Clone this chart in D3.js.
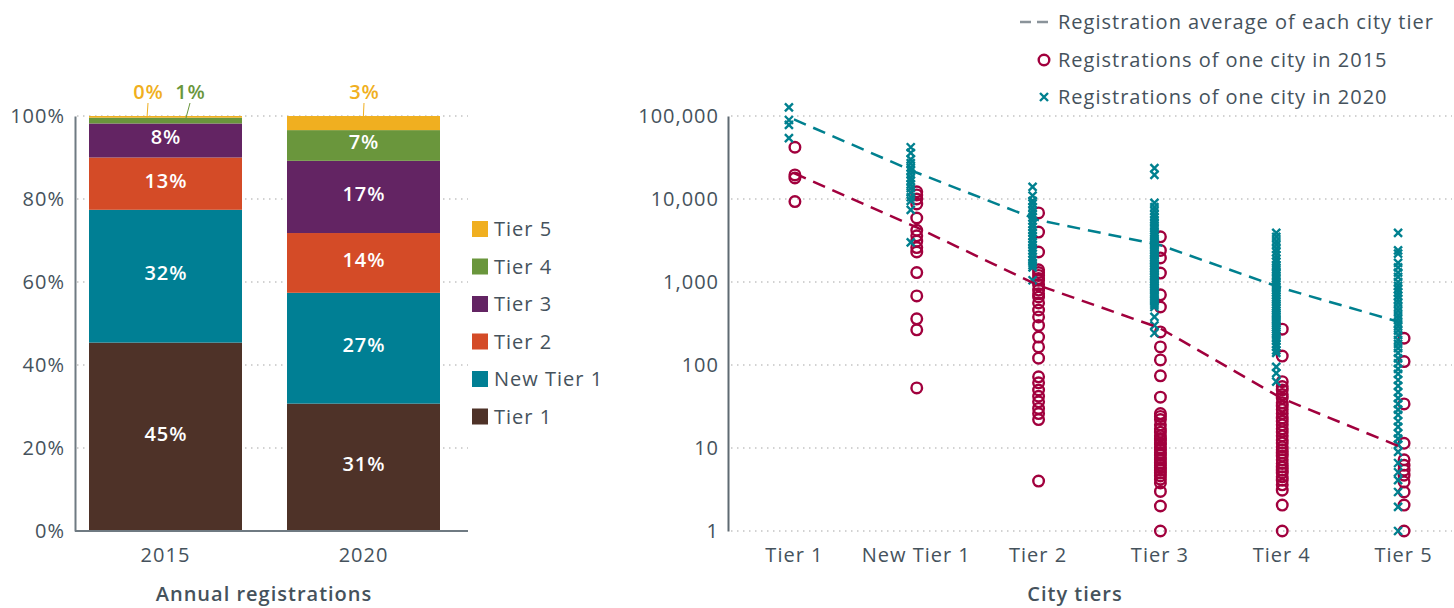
<!DOCTYPE html>
<html><head><meta charset="utf-8">
<script src="https://cdn.jsdelivr.net/npm/d3@7"></script>
<style>
body{margin:0;background:#fff;}
text{font-family:"Open Sans",sans-serif;}
</style></head>
<body><svg id="c" width="1454" height="608"></svg>
<script>
// ---- Left chart data (share of annual registrations, %) ----
const years = ["2015", "2020"];
const stackTiers = ["Tier 1", "New Tier 1", "Tier 2", "Tier 3", "Tier 4", "Tier 5"];
const share2015 = [45.4, 32.0, 12.6, 8.2, 1.4, 0.4];
const share2020 = [30.7, 26.7, 14.4, 17.4, 7.4, 3.4];
const pctTicks = [0, 20, 40, 60, 80, 100];

// ---- Right chart data (registrations per city, log scale) ----
const cityTiers = ["Tier 1", "New Tier 1", "Tier 2", "Tier 3", "Tier 4", "Tier 5"];
const avg2015 = [20500, 4600, 920, 280, 40, 10];
const avg2020 = [91000, 21000, 5600, 2800, 850, 320];
const logTicks = [1, 10, 100, 1000, 10000, 100000];

const t1_2015 = [42000, 19500, 17900, 9300];
const nt1_2015 = [12200, 11200, 10000, 8700, 5900, 4200, 3600, 3100, 2600, 2300, 1300, 680, 360, 265, 53];
const t2_2015 = [6800, 4000, 2300, 1400, 1300, 1200, 1100, 1050, 920, 800, 720, 660, 560, 460, 380, 300, 217, 165, 121, 72, 61, 50, 42, 36, 30, 26, 22, 4];
const t3_2015 = [3500, 2400, 1950, 1280, 700, 500, 250, 165, 115, 74, 41, 26, 24, 22, 19, 17, 15.5, 14, 13, 12.5, 11.5, 11, 10, 9.5, 8.8, 8.2, 7.6, 7.2, 6.6, 6.2, 5.8, 5.4, 5, 4.6, 4.2, 3.8, 3, 2, 1];
const t4_2015 = [270, 128, 63, 55, 50, 44, 40, 35, 32, 29, 26, 23, 21, 19, 17, 15.6, 14, 12.5, 11.5, 10.3, 9.5, 8.7, 8, 7.2, 6.5, 5.9, 5.4, 5, 4.5, 4.1, 3.6, 3.1, 2.05, 1];
const t5_2015 = [210, 110, 34, 11.4, 7.2, 6.2, 5.4, 4.7, 3.9, 2.95, 2.05, 1];

const t1_2020 = [127000, 89500, 78000, 54000];
const nt1_2020 = [42000, 36000, 30000, 27000, 24000, 22000, 20000, 18000, 16500, 15000, 13500, 12000, 10500, 9500, 7400, 3000];
const t2_2020 = [14000, 11000, 9500, 8800, 8000, 7200, 6500, 6000, 5500, 5000, 4600, 4200, 3900, 3600, 3300, 3000, 2800, 2600, 2400, 2200, 2000, 1850, 1700, 1600, 1500, 1050];
const t3_2020 = [23600, 19500, 9000, 8000, 7200, 6500, 6000, 5600, 5200, 4800, 4500, 4200, 3900, 3700, 3500, 3300, 3100, 2950, 2800, 2650, 2500, 2400, 2300, 2200, 2100, 2000, 1900, 1820, 1750, 1680, 1600, 1530, 1470, 1400, 1340, 1280, 1220, 1170, 1120, 1070, 1020, 980, 940, 900, 860, 820, 780, 740, 700, 660, 620, 590, 560, 530, 500, 380, 300, 243];
const t4_2020 = [3900, 3500, 3100, 2800, 2500, 2300, 2100, 1900, 1750, 1600, 1500, 1400, 1300, 1200, 1120, 1050, 980, 920, 860, 800, 750, 700, 660, 620, 580, 540, 510, 480, 450, 420, 400, 380, 360, 340, 320, 300, 285, 270, 255, 240, 225, 210, 195, 180, 165, 150, 140, 95, 80, 63];
const t5_2020 = [3900, 2400, 2200, 1700, 1500, 1300, 1150, 1000, 900, 820, 750, 680, 620, 560, 500, 450, 400, 360, 320, 290, 260, 230, 200, 180, 160, 140, 120, 105, 90, 78, 66, 56, 47, 40, 34, 29, 25, 21, 18, 15, 13, 11, 9, 6.6, 5.1, 4.1, 2.95, 1.95, 1];

const cities2015 = [t1_2015, nt1_2015, t2_2015, t3_2015, t4_2015, t5_2015];
const cities2020 = [t1_2020, nt1_2020, t2_2020, t3_2020, t4_2020, t5_2020];

// ---- Styles ----
const tierColors = ["#4e3228", "#007f94", "#d44b27", "#632463", "#6a963c", "#f0af20"];
const textCol = "#45525c";
const gridCol = "#c4c4c4";
const red = "#a1003d";
const teal = "#00808f";
const FS = 20, LS = "1px";

const svg = d3.select("#c");

function styleText(sel, size, weight) {
  sel.attr("font-size", size || FS).attr("letter-spacing", LS);
  if (weight) sel.attr("font-weight", weight);
  return sel;
}

// ================= LEFT CHART =================
const yL = d3.scaleLinear().domain([0, 100]).range([531, 116]);
const xL = d3.scaleBand().domain(years).range([89, 440]).paddingInner(0.2273).paddingOuter(0);
const L = svg.append("g");

L.append("g").selectAll("line").data(pctTicks.filter(d => d > 0)).join("line")
  .attr("x1", 77).attr("x2", 468).attr("y1", d => yL(d)).attr("y2", d => yL(d))
  .attr("stroke", gridCol).attr("stroke-width", 1.5).attr("stroke-dasharray", "1.5,4.5");

const rows = years.map((y, i) => {
  const o = {year: y};
  const s = i === 0 ? share2015 : share2020;
  stackTiers.forEach((t, j) => o[t] = s[j]);
  return o;
});
const stacked = d3.stack().keys(stackTiers)(rows);

stacked.forEach((layer, j) => {
  L.append("g").selectAll("rect").data(layer).join("rect")
    .attr("x", d => xL(d.data.year)).attr("width", xL.bandwidth())
    .attr("y", d => yL(d[1])).attr("height", d => yL(d[0]) - yL(d[1]))
    .attr("fill", tierColors[j]);
  styleText(L.append("g").selectAll("text").data(layer.filter(d => d[1] - d[0] > 5)).join("text")
    .attr("x", d => xL(d.data.year) + xL.bandwidth() / 2 + 0.5)
    .attr("y", d => yL((d[0] + d[1]) / 2) - 3).attr("dy", "0.35em")
    .attr("text-anchor", "middle").attr("fill", "#fff"), FS, 600)
    .text(d => Math.round(d[1] - d[0]) + "%");
});

// small-segment callouts
const callouts = [
  {layer: 5, yi: 0, lx: 147, tx: 148},
  {layer: 4, yi: 0, lx: 185, tx: 190},
  {layer: 5, yi: 1, lx: 363, tx: 364}
];
callouts.forEach(c => {
  const d = stacked[c.layer][c.yi];
  L.append("line").attr("x1", c.tx).attr("y1", 103).attr("x2", c.lx).attr("y2", yL((d[0] + d[1]) / 2) + 1)
    .attr("stroke", tierColors[c.layer]).attr("stroke-width", 1);
  styleText(L.append("text").attr("x", c.tx + 0.5).attr("y", 99).attr("text-anchor", "middle")
    .attr("fill", tierColors[c.layer]), FS, 600)
    .text(Math.round(d[1] - d[0]) + "%");
});

// axes
const yAxL = L.append("g").attr("transform", "translate(75,0)")
  .call(d3.axisLeft(yL).tickValues(pctTicks).tickFormat(d => d + "%").tickSize(0).tickPadding(10));
yAxL.select(".domain").attr("stroke", "#6f7a82").attr("stroke-width", 2);
styleText(yAxL.selectAll("text").attr("fill", textCol));
const xAxL = L.append("g").attr("transform", "translate(0,531)")
  .call(d3.axisBottom(xL).tickSize(0).tickPadding(17));
xAxL.select(".domain").attr("d", "M75,0H468").attr("stroke", "#6f7a82").attr("stroke-width", 2);
styleText(xAxL.selectAll("text").attr("fill", textCol));
styleText(L.append("text").attr("x", 264).attr("y", 601).attr("text-anchor", "middle")
  .attr("fill", textCol), FS, 600).text("Annual registrations");

// legend
const legOrder = [5, 4, 3, 2, 1, 0];
legOrder.forEach((j, k) => {
  const cy = 229 + k * 37.5;
  L.append("rect").attr("x", 472).attr("y", cy - 8).attr("width", 16).attr("height", 16).attr("fill", tierColors[j]);
  styleText(L.append("text").attr("x", 494).attr("y", cy).attr("dy", "0.35em").attr("fill", textCol))
    .text(stackTiers[j]);
});

// ================= RIGHT CHART =================
const yR = d3.scaleLog().domain([1, 100000]).range([531, 116]);
const xR = d3.scalePoint().domain(cityTiers).range([733, 1464]).padding(0.5);
const R = svg.append("g");

R.append("g").selectAll("line").data(logTicks).join("line")
  .attr("x1", 731).attr("x2", 1452).attr("y1", d => yR(d)).attr("y2", d => yR(d))
  .attr("stroke", gridCol).attr("stroke-width", 1.5).attr("stroke-dasharray", "1.5,4.5");

const yAxR = R.append("g").attr("transform", "translate(728,0)")
  .call(d3.axisLeft(yR).tickValues(logTicks).tickFormat(d3.format(",")).tickSize(0).tickPadding(9));
yAxR.select(".domain").attr("stroke", "#5f6a72").attr("stroke-width", 2);
styleText(yAxR.selectAll("text").attr("fill", textCol));

const xAxR = R.append("g").attr("transform", "translate(0,531)")
  .call(d3.axisBottom(xR).tickSize(0).tickPadding(17));
xAxR.select(".domain").remove();
styleText(xAxR.selectAll("text").attr("fill", textCol));
styleText(R.append("text").attr("x", 1075).attr("y", 601).attr("text-anchor", "middle")
  .attr("fill", textCol), FS, 600).text("City tiers");

// scatter
const pts2015 = cities2015.flatMap((arr, i) => arr.map(v => ({t: cityTiers[i], v})));
const pts2020 = cities2020.flatMap((arr, i) => arr.map(v => ({t: cityTiers[i], v})));

R.append("g").selectAll("circle").data(pts2015).join("circle")
  .attr("cx", d => xR(d.t) + 1).attr("cy", d => yR(d.v)).attr("r", 5.3)
  .attr("fill", "none").attr("stroke", red).attr("stroke-width", 2.4);

const xm = 4;
R.append("g").selectAll("path").data(pts2020).join("path")
  .attr("d", d => {
    const x = xR(d.t) - 5, y = yR(d.v);
    return `M${x - xm},${y - xm}L${x + xm},${y + xm}M${x - xm},${y + xm}L${x + xm},${y - xm}`;
  })
  .attr("stroke", teal).attr("stroke-width", 2.4).attr("fill", "none");

// average lines
const line = d3.line().x((d, i) => xR(cityTiers[i])).y(d => yR(d));
R.append("path").datum(avg2020).attr("d", line).attr("fill", "none")
  .attr("stroke", teal).attr("stroke-width", 2.5).attr("stroke-dasharray", "13,8");
R.append("path").datum(avg2015).attr("d", line).attr("fill", "none")
  .attr("stroke", red).attr("stroke-width", 2.5).attr("stroke-dasharray", "13,8");

// legend
const LG = svg.append("g");
LG.append("line").attr("x1", 1020).attr("x2", 1050).attr("y1", 22).attr("y2", 22)
  .attr("stroke", "#8a939a").attr("stroke-width", 2.5).attr("stroke-dasharray", "11,6");
LG.append("circle").attr("cx", 1044).attr("cy", 60).attr("r", 5.3)
  .attr("fill", "none").attr("stroke", red).attr("stroke-width", 2.4);
LG.append("path").attr("d", `M${1044 - xm},${97 - xm}L${1044 + xm},${97 + xm}M${1044 - xm},${97 + xm}L${1044 + xm},${97 - xm}`)
  .attr("stroke", teal).attr("stroke-width", 2.4);
const legTexts = ["Registration average of each city tier", "Registrations of one city in 2015", "Registrations of one city in 2020"];
[22, 60, 97].forEach((y, i) => {
  styleText(LG.append("text").attr("x", 1058).attr("y", y).attr("dy", "0.35em").attr("fill", textCol))
    .text(legTexts[i]);
});
</script></body></html>
